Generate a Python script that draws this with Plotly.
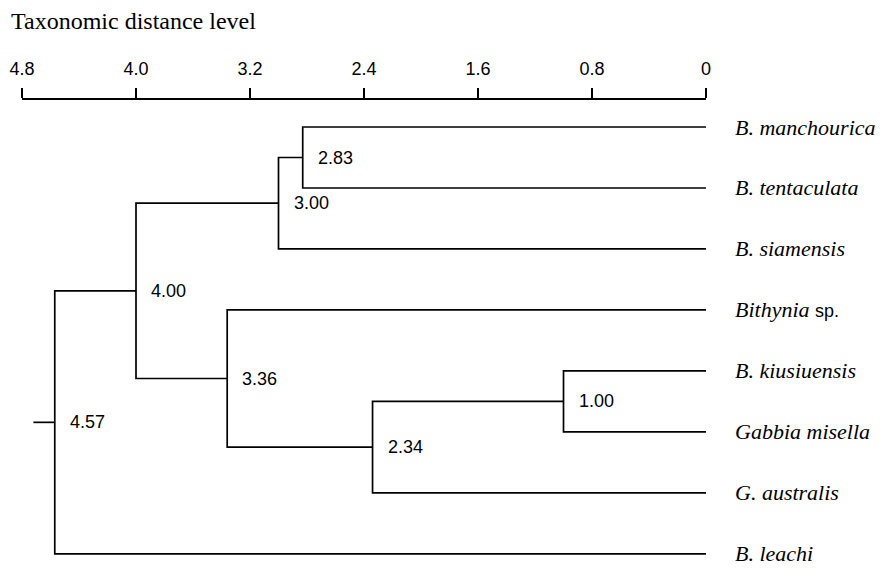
import plotly.graph_objects as go

# ---- data ----
leaves = ["B. manchourica", "B. tentaculata", "B. siamensis", "Bithynia sp.",
          "B. kiusiuensis", "Gabbia misella", "G. australis", "B. leachi"]
leaf_labels = ["<i>B. manchourica</i>", "<i>B. tentaculata</i>", "<i>B. siamensis</i>",
               "<i>Bithynia</i> <span style='font-family:Liberation Sans;font-size:18px;font-style:normal'>sp.</span>",
               "<i>B. kiusiuensis</i>", "<i>Gabbia misella</i>", "<i>G. australis</i>",
               "<i>B. leachi</i>"]
# merges: (child_a, child_b, distance); children are leaf names or node names
merge_names = ["n283", "n300", "n100", "n234", "n336", "n400", "n457"]
merge_left = ["B. manchourica", "n283", "B. kiusiuensis", "n100", "Bithynia sp.", "n300", "n400"]
merge_right = ["B. tentaculata", "B. siamensis", "Gabbia misella", "G. australis", "n234", "n336", "B. leachi"]
merge_dist = [2.83, 3.00, 1.00, 2.34, 3.36, 4.00, 4.57]
merge_text = ["2.83", "3.00", "1.00", "2.34", "3.36", "4.00", "4.57"]
root_stub = 4.72
tick_vals = [4.8, 4.0, 3.2, 2.4, 1.6, 0.8, 0]
tick_text = ["4.8", "4.0", "3.2", "2.4", "1.6", "0.8", "0"]

# ---- build coordinates ----
pos = {}
height = {}
for i, name in enumerate(leaves):
    pos[name] = i
    height[name] = 0.0

xs, ys = [], []
for name, a, b, d in zip(merge_names, merge_left, merge_right, merge_dist):
    ya, yb = pos[a], pos[b]
    xs += [height[a], d, d, height[b], None]
    ys += [ya, ya, yb, yb, None]
    pos[name] = (ya + yb) / 2
    height[name] = d

root = merge_names[-1]
xs += [height[root], root_stub, None]
ys += [pos[root], pos[root], None]

fig = go.Figure()
fig.add_trace(go.Scatter(x=xs, y=ys, mode="lines",
                         line=dict(color="black", width=1.7),
                         hoverinfo="skip", showlegend=False))

annotations = []
for name, lab in zip(leaves, leaf_labels):
    annotations.append(dict(x=0, y=pos[name], xref="x", yref="y", text=lab,
                            xanchor="left", yanchor="middle", xshift=27, showarrow=False,
                            font=dict(family="Liberation Serif", size=22, color="black")))
for name, t in zip(merge_names, merge_text):
    annotations.append(dict(x=height[name], y=pos[name], xref="x", yref="y", text=t,
                            xanchor="left", yanchor="middle", xshift=13, yshift=0, showarrow=False,
                            font=dict(family="Liberation Sans", size=18, color="black")))
annotations.append(dict(x=0, y=1.1695, xref="paper", yref="paper", xshift=-12,
                        text="Taxonomic distance level", xanchor="left", yanchor="middle",
                        showarrow=False, borderpad=0,
                        font=dict(family="Liberation Serif", size=24, color="black")))

fig.update_layout(
    width=886, height=575,
    margin=dict(l=14, r=188, t=92, b=17, autoexpand=False),
    plot_bgcolor="white", paper_bgcolor="white",
    annotations=annotations,
    xaxis=dict(range=[4.8, 0], side="top", showline=True, linecolor="black", linewidth=1.8,
               ticks="outside", ticklen=10, tickwidth=1.5, tickcolor="black",
               tickvals=tick_vals, ticktext=tick_text, showgrid=False, zeroline=False,
               ticklabelstandoff=6, automargin=False,
               tickfont=dict(family="Liberation Sans", size=18, color="black")),
    yaxis=dict(range=[7.2, -0.443], visible=False, showgrid=False, zeroline=False,
               automargin=False),
)

fig.write_html("out.html")
